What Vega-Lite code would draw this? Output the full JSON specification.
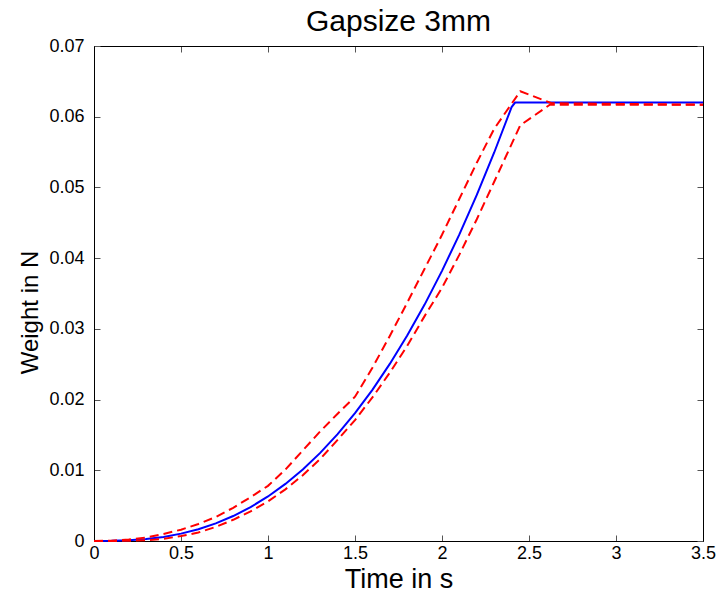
{
  "$schema": "https://vega.github.io/schema/vega-lite/v6.json",
  "width": 609,
  "height": 495,
  "autosize": "none",
  "padding": {"left": 94, "top": 46, "right": 22, "bottom": 52},
  "background": "white",
  "title": {"text": "Gapsize 3mm", "fontSize": 30, "font": "Liberation Sans", "fontWeight": "normal", "color": "black", "anchor": "middle", "offset": 13, "baseline": "alphabetic", "dy": 37},
  "config": {
    "view": {"stroke": "black", "strokeWidth": 1},
    "axis": {"grid": false, "domainColor": "black", "tickColor": "#555555", "tickSize": -6, "labelFont": "Liberation Sans", "labelFontSize": 18, "labelColor": "black", "titleFont": "Liberation Sans", "titleFontWeight": "normal", "titleColor": "black", "labelFlush": false, "labelOverlap": false}
  },
  "datasets": {
    "blue": [
      {"t": 0, "w": 0}, {"t": 0.1, "w": 0.00002}, {"t": 0.2, "w": 0.0001}, {"t": 0.3, "w": 0.00028},
      {"t": 0.4, "w": 0.00058}, {"t": 0.5, "w": 0.00104}, {"t": 0.6, "w": 0.00167}, {"t": 0.7, "w": 0.00249},
      {"t": 0.8, "w": 0.00353}, {"t": 0.9, "w": 0.00479}, {"t": 1.0, "w": 0.0063}, {"t": 1.1, "w": 0.00807},
      {"t": 1.2, "w": 0.01012}, {"t": 1.3, "w": 0.01246}, {"t": 1.4, "w": 0.01511}, {"t": 1.5, "w": 0.01808},
      {"t": 1.6, "w": 0.02138}, {"t": 1.7, "w": 0.02504}, {"t": 1.8, "w": 0.02905}, {"t": 1.9, "w": 0.03343},
      {"t": 2.0, "w": 0.0382}, {"t": 2.1, "w": 0.04336}, {"t": 2.2, "w": 0.04894}, {"t": 2.3, "w": 0.05494},
      {"t": 2.4, "w": 0.06137}, {"t": 2.42, "w": 0.062}, {"t": 3.5, "w": 0.062}
    ],
    "red": [
      {"s": "a", "t": 0, "w": 0}, {"s": "a", "t": 0.1, "w": 0.00005}, {"s": "a", "t": 0.2, "w": 0.0002},
      {"s": "a", "t": 0.3, "w": 0.0005}, {"s": "a", "t": 0.4, "w": 0.001}, {"s": "a", "t": 0.5, "w": 0.0016},
      {"s": "a", "t": 0.6, "w": 0.0024}, {"s": "a", "t": 0.7, "w": 0.0034}, {"s": "a", "t": 0.8, "w": 0.0047},
      {"s": "a", "t": 0.9, "w": 0.0062}, {"s": "a", "t": 1.0, "w": 0.0078}, {"s": "a", "t": 1.1, "w": 0.0101},
      {"s": "a", "t": 1.2, "w": 0.0128}, {"s": "a", "t": 1.3, "w": 0.0155}, {"s": "a", "t": 1.4, "w": 0.018},
      {"s": "a", "t": 1.5, "w": 0.0204}, {"s": "a", "t": 1.6, "w": 0.0245}, {"s": "a", "t": 1.7, "w": 0.029},
      {"s": "a", "t": 1.8, "w": 0.0337}, {"s": "a", "t": 1.9, "w": 0.0385}, {"s": "a", "t": 2.0, "w": 0.0433},
      {"s": "a", "t": 2.1, "w": 0.0484}, {"s": "a", "t": 2.2, "w": 0.0535}, {"s": "a", "t": 2.3, "w": 0.0583},
      {"s": "a", "t": 2.45, "w": 0.0636}, {"s": "a", "t": 2.63, "w": 0.0619}, {"s": "a", "t": 3.5, "w": 0.0617},
      {"s": "b", "t": 0, "w": 0}, {"s": "b", "t": 0.1, "w": 0}, {"s": "b", "t": 0.2, "w": 0.00003},
      {"s": "b", "t": 0.3, "w": 0.0001}, {"s": "b", "t": 0.4, "w": 0.0003}, {"s": "b", "t": 0.5, "w": 0.0007},
      {"s": "b", "t": 0.6, "w": 0.0012}, {"s": "b", "t": 0.7, "w": 0.002}, {"s": "b", "t": 0.8, "w": 0.003},
      {"s": "b", "t": 0.9, "w": 0.0042}, {"s": "b", "t": 1.0, "w": 0.0056}, {"s": "b", "t": 1.1, "w": 0.0073},
      {"s": "b", "t": 1.2, "w": 0.0093}, {"s": "b", "t": 1.3, "w": 0.0116}, {"s": "b", "t": 1.4, "w": 0.0143},
      {"s": "b", "t": 1.5, "w": 0.0171}, {"s": "b", "t": 1.6, "w": 0.0203}, {"s": "b", "t": 1.7, "w": 0.0238},
      {"s": "b", "t": 1.8, "w": 0.0276}, {"s": "b", "t": 1.9, "w": 0.0318}, {"s": "b", "t": 2.0, "w": 0.0358},
      {"s": "b", "t": 2.1, "w": 0.0405}, {"s": "b", "t": 2.2, "w": 0.0455}, {"s": "b", "t": 2.3, "w": 0.0508},
      {"s": "b", "t": 2.45, "w": 0.0588}, {"s": "b", "t": 2.62, "w": 0.0617}, {"s": "b", "t": 3.5, "w": 0.0617}
    ]
  },
  "layer": [
    {
      "data": {"name": "blue"},
      "mark": {"type": "line", "color": "#0000FF", "strokeWidth": 2},
      "encoding": {
        "x": {"field": "t", "type": "quantitative", "scale": {"domain": [0, 3.5], "nice": false, "zero": false},
          "axis": {"orient": "bottom", "title": "Time in s", "titleFontSize": 27, "values": [0, 0.5, 1, 1.5, 2, 2.5, 3, 3.5], "format": ".1~f", "labelPadding": 9, "titlePadding": 4}},
        "y": {"field": "w", "type": "quantitative", "scale": {"domain": [0, 0.07], "nice": false, "zero": false},
          "axis": {"orient": "left", "title": "Weight in N", "titleFontSize": 24, "titleY": 266, "values": [0, 0.01, 0.02, 0.03, 0.04, 0.05, 0.06, 0.07], "labelExpr": "datum.value == 0 ? '0' : format(datum.value, '.2f')", "labelPadding": 16, "titlePadding": 6}}
      }
    },
    {
      "data": {"name": "red"},
      "mark": {"type": "line", "color": "#FF0000", "strokeWidth": 2, "strokeDash": [9, 5]},
      "encoding": {
        "x": {"field": "t", "type": "quantitative", "axis": {"orient": "top", "labels": false, "title": null, "values": [0, 0.5, 1, 1.5, 2, 2.5, 3, 3.5]}},
        "y": {"field": "w", "type": "quantitative", "axis": {"orient": "right", "labels": false, "title": null, "values": [0, 0.01, 0.02, 0.03, 0.04, 0.05, 0.06, 0.07]}},
        "detail": {"field": "s", "type": "nominal"}
      }
    }
  ],
  "resolve": {"axis": {"x": "independent", "y": "independent"}}
}
